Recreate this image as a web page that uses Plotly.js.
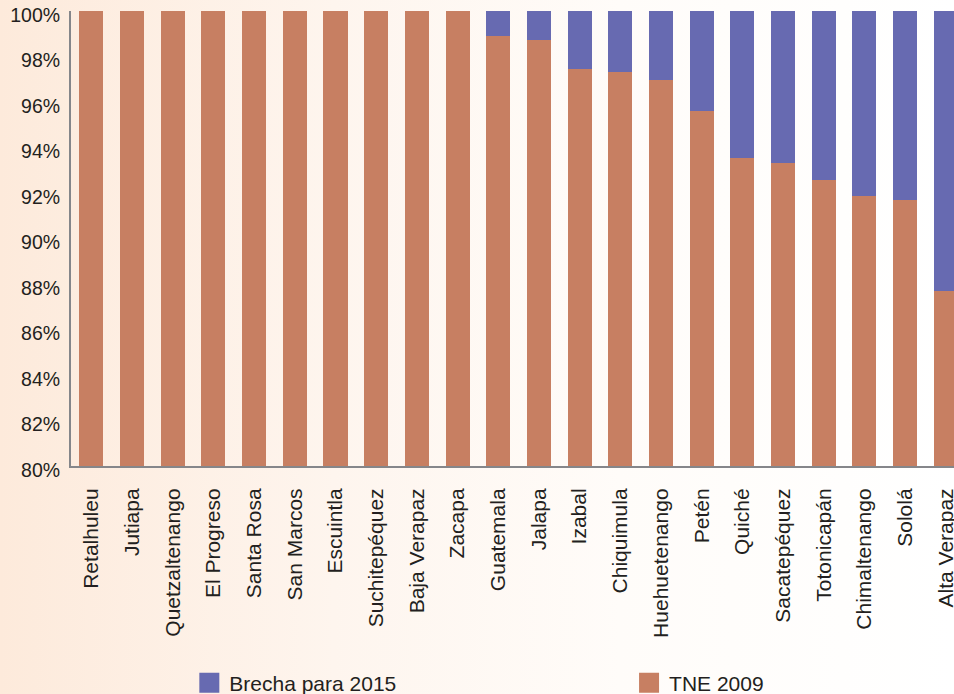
<!DOCTYPE html>
<html>
<head>
<meta charset="utf-8">
<script src="https://cdn.plot.ly/plotly-3.0.1.min.js"></script>
<style>
html, body { margin: 0; padding: 0; }
body { width: 954px; height: 694px; overflow: hidden;
  background: linear-gradient(to right, #fdeadb 0%, #fef5ee 35%, #fffcf9 65%, #ffffff 100%); }
#chart { width: 954px; height: 694px; }
</style>
</head>
<body>
<div id="chart"></div>
<script>
const categories = ["Retalhuleu", "Jutiapa", "Quetzaltenango", "El Progreso", "Santa Rosa", "San Marcos",
  "Escuintla", "Suchitepéquez", "Baja Verapaz", "Zacapa", "Guatemala", "Jalapa", "Izabal", "Chiquimula",
  "Huehuetenango", "Petén", "Quiché", "Sacatepéquez", "Totonicapán", "Chimaltenango", "Sololá", "Alta Verapaz"];
const tne2009 = [100, 100, 100, 100, 100, 100, 100, 100, 100, 100, 98.9, 98.73, 97.45, 97.32,
  96.97, 95.6, 93.54, 93.32, 92.57, 91.87, 91.69, 87.69];
const brecha2015 = tne2009.map(v => +(100 - v).toFixed(2));
const yTicks = [80, 82, 84, 86, 88, 90, 92, 94, 96, 98, 100];
const yTickLabels = yTicks.map(v => v + "%");

const font = "Liberation Sans, Arial, Helvetica, sans-serif";
const data = [
  { type: "bar", name: "TNE 2009", x: categories, y: tne2009, marker: { color: "#c77f62" },
    hoverinfo: "x+y", legend: "legend2" },
  { type: "bar", name: "Brecha para 2015", x: categories, y: brecha2015, marker: { color: "#676ab1" },
    hoverinfo: "x+y", legend: "legend" }
];
const legendFont = { family: font, size: 21, color: "#231f20" };
const layout = {
  width: 954, height: 694,
  barmode: "stack", bargap: 0.41,
  paper_bgcolor: "rgba(0,0,0,0)", plot_bgcolor: "rgba(0,0,0,0)",
  margin: { l: 71, r: 0, t: 11, b: 228, autoexpand: false },
  font: { family: font, size: 19, color: "#231f20" },
  showlegend: true,
  legend: { orientation: "h", x: 0.134, xanchor: "left", y: -0.477, yanchor: "middle",
    font: legendFont, bgcolor: "rgba(0,0,0,0)" },
  legend2: { orientation: "h", x: 0.632, xanchor: "left", y: -0.477, yanchor: "middle",
    font: legendFont, bgcolor: "rgba(0,0,0,0)" },
  xaxis: { type: "category", range: [-0.5, 21.2], showline: true, linecolor: "#85868a", linewidth: 2,
    tickangle: -90, ticks: "outside", ticklen: 12, tickcolor: "rgba(0,0,0,0)", automargin: false,
    ticklabeloverflow: "allow",
    tickfont: { family: font, size: 21, color: "#231f20" }, showgrid: false, zeroline: false, fixedrange: true },
  yaxis: { range: [80, 100], tickvals: yTicks, ticktext: yTickLabels, showline: true, linecolor: "#85868a",
    linewidth: 2, ticks: "outside", ticklen: 5, tickcolor: "rgba(0,0,0,0)", showgrid: false, zeroline: false,
    automargin: false, ticklabeloverflow: "allow", ticklabelshift: 4,
    tickfont: { family: font, size: 19.5, color: "#231f20" }, fixedrange: true }
};
Plotly.newPlot("chart", data, layout, { displayModeBar: false, staticPlot: true }).then(function () {
  document.querySelectorAll(".legendpoints path").forEach(function (p) {
    p.setAttribute("d", "M10,10H-10V-10H10Z");
  });
});
</script>
</body>
</html>
